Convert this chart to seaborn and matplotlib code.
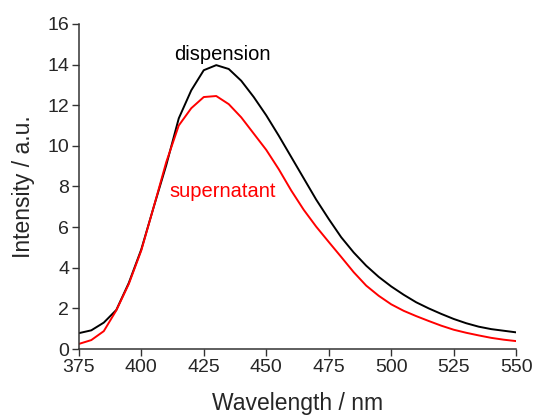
import matplotlib
matplotlib.use("Agg")
import matplotlib.pyplot as plt
import pandas as pd
import seaborn as sns

wavelength = list(range(375, 551, 5))
dispension = [0.78, 0.92, 1.3, 1.92, 3.25, 4.9, 7.0, 9.05, 11.35, 12.73, 13.72, 13.97,
              13.78, 13.2, 12.4, 11.5, 10.5, 9.45, 8.4, 7.35, 6.4, 5.5, 4.75, 4.1,
              3.55, 3.08, 2.67, 2.3, 2.0, 1.73, 1.48, 1.27, 1.1, 0.98, 0.9, 0.82]
supernatant = [0.25, 0.44, 0.88, 1.9, 3.2, 4.85, 7.0, 9.2, 11.0, 11.85, 12.4, 12.45,
               12.05, 11.4, 10.6, 9.8, 8.85, 7.8, 6.85, 6.02, 5.27, 4.53, 3.78, 3.12,
               2.62, 2.2, 1.88, 1.62, 1.38, 1.15, 0.95, 0.8, 0.67, 0.55, 0.46, 0.39]

data = pd.DataFrame({"wavelength": wavelength, "dispension": dispension,
                     "supernatant": supernatant})

sns.set_theme(style="ticks")
plt.rcParams["font.family"] = ["Liberation Sans", "DejaVu Sans"]

fig = plt.figure(figsize=(5.36, 4.19), dpi=100)
ax = fig.add_axes([0.147, 0.167, 0.816, 0.776])

sns.lineplot(data=data, x="wavelength", y="dispension", color="black", lw=1.4, ax=ax)
sns.lineplot(data=data, x="wavelength", y="supernatant", color="red", lw=1.4, ax=ax)

ax.text(432.3, 14.2, "dispension", color="black", fontsize=14.5, ha="center", va="baseline")
ax.text(432.6, 7.5, "supernatant", color="red", fontsize=14.5, ha="center", va="baseline")

ax.set_xlim(375, 550)
ax.set_ylim(0, 16)
ax.set_xticks(range(375, 551, 25))
ax.set_yticks(range(0, 17, 2))
ax.set_xlabel("Wavelength / nm", fontsize=16.5, labelpad=12)
ax.set_ylabel("Intensity / a.u.", fontsize=16.5, labelpad=9)
ax.tick_params(labelsize=14, length=5, width=1, pad=2, direction="out", color="#333333")
for side in ["left", "bottom"]:
    ax.spines[side].set_linewidth(1.1)
    ax.spines[side].set_color("#333333")
sns.despine(ax=ax)

fig.savefig("out.png", dpi=100)
